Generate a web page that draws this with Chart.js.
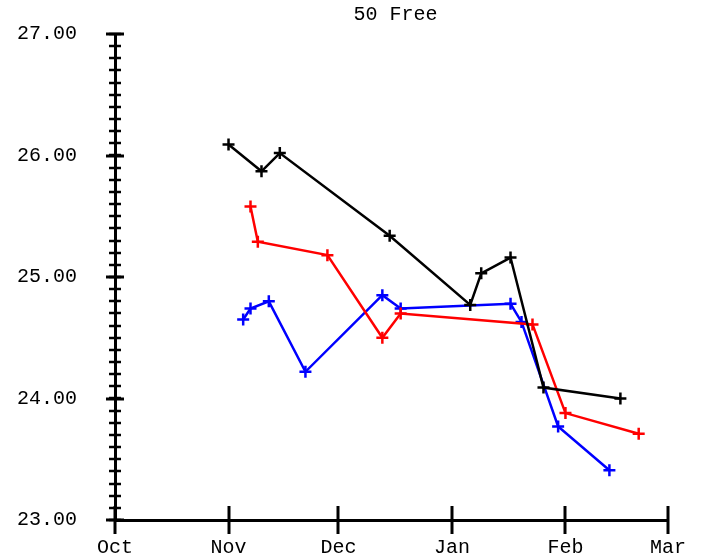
<!DOCTYPE html>
<html>
<head>
<meta charset="utf-8">
<script src="https://cdn.jsdelivr.net/npm/chart.js@4/dist/chart.umd.min.js"></script>
<style>
  body { margin: 0; background: #fff; }
</style>
</head>
<body>
<canvas id="myChart" width="703" height="559"></canvas>
<script>
// season runs 1 Oct -> 1 Mar
const seasonStart = "2001-10-01";
const monthTicks = ["2001-10-01", "2001-11-01", "2001-12-01", "2002-01-01", "2002-02-01", "2002-03-01"];
const monthLabels = ["Oct", "Nov", "Dec", "Jan", "Feb", "Mar"];
const yTicks = [23, 24, 25, 26, 27];
const chartTitle = "50 Free";

const blackDates = ["2001-11-01", "2001-11-10", "2001-11-15", "2001-12-15", "2002-01-06", "2002-01-09", "2002-01-17", "2002-01-26", "2002-02-16"];
const blackTimes = [26.09, 25.87, 26.02, 25.34, 24.77, 25.03, 25.16, 24.09, 24.00];

const redDates = ["2001-11-07", "2001-11-09", "2001-11-28", "2001-12-13", "2001-12-18", "2002-01-23", "2002-02-01", "2002-02-21"];
const redTimes = [25.58, 25.29, 25.18, 24.50, 24.70, 24.61, 23.88, 23.71];

const blueDates = ["2001-11-05", "2001-11-07", "2001-11-12", "2001-11-22", "2001-12-13", "2001-12-18", "2002-01-17", "2002-01-20", "2002-01-30", "2002-02-13"];
const blueTimes = [24.65, 24.74, 24.80, 24.22, 24.85, 24.74, 24.78, 24.63, 23.77, 23.41];

function dayOf(s) {
    return (Date.parse(s + "T00:00:00Z") - Date.parse(seasonStart + "T00:00:00Z")) / 86400000;
}

function pts(dates, vals) {
    return dates.map((d, i) => ({ x: dayOf(d), y: vals[i] }));
}

function series(dates, vals, color) {
    return {
        data: pts(dates, vals),
        borderColor: color,
        backgroundColor: color,
        borderWidth: 2.5,
        pointStyle: 'cross',
        pointRadius: 6,
        pointHoverRadius: 6,
        pointBorderWidth: 2.5,
        tension: 0
    };
}

const monthDays = monthTicks.map(dayOf);
const FAMILY = "'Liberation Mono', 'Courier New', monospace";
const FONT = { family: FAMILY, size: 20 };

// tick marks that cross the axes, plus the title centred over the plot
const axisTicks = {
    id: 'axisTicks',
    afterDraw(chart) {
        const c = chart.ctx, xs = chart.scales.x, ys = chart.scales.y;
        const ax = chart.chartArea.left, ay = chart.chartArea.bottom;
        c.save();
        c.strokeStyle = '#000';
        c.lineWidth = 2.5;
        for (let v = yTicks[0]; v <= yTicks[yTicks.length - 1] + 1e-9; v += 0.1) {
            const y = Math.round(ys.getPixelForValue(v));
            c.beginPath(); c.moveTo(ax - 6, y); c.lineTo(ax + 6, y); c.stroke();
        }
        c.lineWidth = 3;
        yTicks.forEach(v => {
            const y = Math.round(ys.getPixelForValue(v));
            c.beginPath(); c.moveTo(ax - 9, y); c.lineTo(ax + 9, y); c.stroke();
        });
        monthDays.forEach(d => {
            const x = Math.round(xs.getPixelForValue(d));
            c.beginPath(); c.moveTo(x, ay - 14); c.lineTo(x, ay + 14); c.stroke();
        });
        c.fillStyle = '#000';
        c.font = "20px " + FAMILY;
        c.textAlign = 'center';
        c.textBaseline = 'middle';
        c.fillText(chartTitle, (chart.chartArea.left + chart.chartArea.right) / 2 + 4, 15);
        c.restore();
    }
};

new Chart(document.getElementById('myChart'), {
    type: 'line',
    data: {
        datasets: [
            series(blackDates, blackTimes, '#000000'),
            series(redDates, redTimes, '#ff0000'),
            series(blueDates, blueTimes, '#0000ff')
        ]
    },
    plugins: [axisTicks],
    options: {
        responsive: false,
        animation: false,
        layout: { autoPadding: false, padding: { left: 0, right: 35, top: 34, bottom: 0 } },
        plugins: {
            legend: { display: false },
            tooltip: { enabled: false },
            title: { display: false }
        },
        scales: {
            x: {
                type: 'linear',
                min: monthDays[0],
                max: monthDays[monthDays.length - 1],
                afterBuildTicks: s => { s.ticks = monthDays.map(v => ({ value: v })); },
                afterFit: s => { s.height = 39; },
                grid: { drawOnChartArea: false, drawTicks: false },
                border: { display: true, color: '#000', width: 3 },
                ticks: {
                    color: '#000',
                    font: FONT,
                    padding: 16,
                    maxRotation: 0,
                    autoSkip: false,
                    callback: (v) => monthLabels[monthDays.indexOf(v)]
                }
            },
            y: {
                min: yTicks[0],
                max: yTicks[yTicks.length - 1],
                afterBuildTicks: s => { s.ticks = yTicks.map(v => ({ value: v })); },
                afterFit: s => { s.width = 115; s.paddingTop = 0; s.paddingBottom = 0; },
                grid: { drawOnChartArea: false, drawTicks: false },
                border: { display: true, color: '#000', width: 3 },
                ticks: {
                    color: '#000',
                    font: FONT,
                    padding: 38,
                    callback: v => v.toFixed(2)
                }
            }
        }
    }
});
</script>
</body>
</html>
